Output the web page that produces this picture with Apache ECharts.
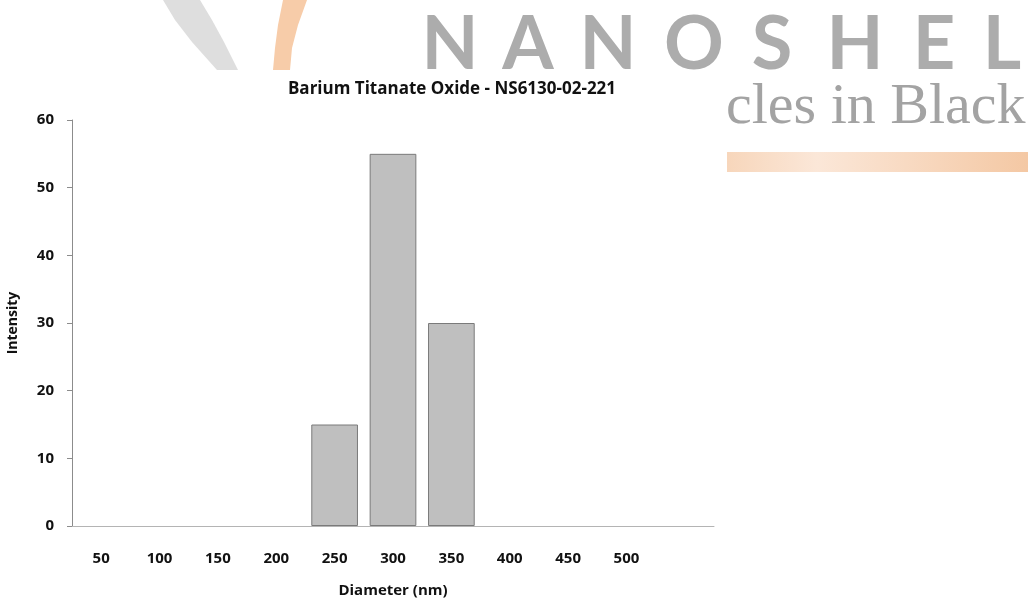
<!DOCTYPE html>
<html>
<head>
<meta charset="utf-8">
<script src="https://cdn.jsdelivr.net/npm/echarts@6/dist/echarts.min.js"></script>
<style>
  html, body { margin: 0; padding: 0; background: #fff; }
  #chart { width: 1034px; height: 601px; }
</style>
</head>
<body>
<div id="chart"></div>
<script>
// data
const diameters = ['50', '100', '150', '200', '250', '300', '350', '400', '450', '500', '']
const intensity = [0, 0, 0, 0, 15, 55, 30, 0, 0, 0, 0]
const yTicks = { min: 0, max: 60, interval: 10 }

const chart = echarts.init(document.getElementById('chart'))

// logo watermark letters (background decoration)
const logoLetters = 'NANOSHEL'.split('')
const letterX = [450, 528, 608, 694, 772, 855, 934, 1002]
const logoGraphics = logoLetters.map((ch, i) => ({
  type: 'text',
  x: letterX[i],
  y: 82,
  style: {
    text: ch,
    fill: '#acacac',
    font: 'bold 74px Lato',
    textAlign: 'center',
    textVerticalAlign: 'bottom'
  },
  z: -10
}))

const axisFont = { fontFamily: 'Open Sans', fontWeight: 'bold', color: '#111' }

chart.setOption({
  animation: false,
  backgroundColor: '#fff',
  title: {
    text: 'Barium Titanate Oxide - NS6130-02-221',
    left: 447,
    top: 76,
    textAlign: 'center',
    textStyle: Object.assign({ fontSize: 17 }, axisFont)
  },
  grid: {
    left: 72,
    right: 320,
    top: 120,
    bottom: 75,
    outerBoundsMode: 'none'
  },
  xAxis: {
    type: 'category',
    data: diameters,
    name: 'Diameter (nm)',
    nameLocation: 'middle',
    nameGap: 57,
    nameTextStyle: Object.assign({ fontSize: 15 }, axisFont),
    axisLine: { lineStyle: { color: '#b4b4b4', width: 1 } },
    axisTick: { show: false },
    axisLabel: Object.assign({ margin: 25, fontSize: 15 }, axisFont)
  },
  yAxis: {
    type: 'value',
    min: yTicks.min,
    max: yTicks.max,
    interval: yTicks.interval,
    name: 'Intensity',
    nameLocation: 'middle',
    nameGap: 52,
    nameTextStyle: Object.assign({ fontSize: 14 }, axisFont),
    axisLine: { show: true, lineStyle: { color: '#8c8c8c', width: 1 } },
    axisTick: { show: true, length: 5, lineStyle: { color: '#8c8c8c' } },
    splitLine: { show: false },
    axisLabel: Object.assign({ margin: 18, fontSize: 15 }, axisFont)
  },
  graphic: [
    {
      type: 'polygon',
      shape: {
        points: [[163, 0], [175, 20], [192, 42], [217, 70], [238, 70], [224, 42], [212, 20], [200, 0]]
      },
      style: { fill: '#dedede' },
      z: -10
    },
    {
      type: 'polygon',
      shape: {
        points: [[283, 0], [278, 25], [275, 48], [273, 70], [290, 70], [292, 48], [298, 25], [307, 0]]
      },
      style: { fill: '#f7cca9' },
      z: -10
    },
    ...logoGraphics,
    {
      type: 'text',
      x: 726,
      y: 137,
      style: {
        text: 'cles in Black',
        fill: '#a3a3a3',
        font: '58px "Liberation Serif"',
        textVerticalAlign: 'bottom'
      },
      z: -10
    },
    {
      type: 'rect',
      shape: { x: 727, y: 152, width: 301, height: 20 },
      style: {
        fill: new echarts.graphic.LinearGradient(0, 0, 1, 0, [
          { offset: 0, color: '#f7d6bb' },
          { offset: 0.3, color: '#fbe7d8' },
          { offset: 1, color: '#f4c8a4' }
        ])
      },
      z: -10
    }
  ],
  series: [
    {
      name: 'Intensity',
      type: 'bar',
      // zero bins are left empty so no border line is drawn for them
      data: intensity.map(v => (v === 0 ? '-' : v)),
      barCategoryGap: '20%',
      itemStyle: {
        color: '#bfbfbf',
        borderColor: '#7a7a7a',
        borderWidth: 1
      }
    }
  ]
})
</script>
</body>
</html>
